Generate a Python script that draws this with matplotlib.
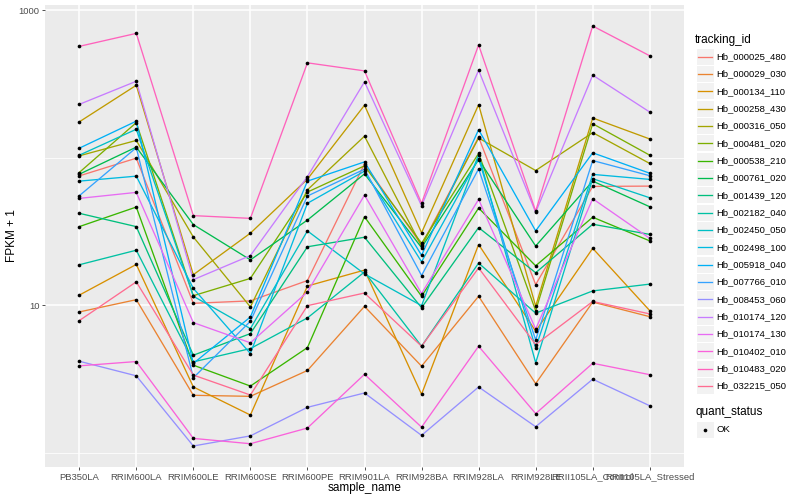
import numpy as np
import matplotlib
matplotlib.use("Agg")
import matplotlib.pyplot as plt
from matplotlib.patches import Rectangle
from matplotlib.lines import Line2D
from matplotlib.ticker import FixedLocator, NullFormatter

plt.rcParams["font.family"] = ["Liberation Sans", "DejaVu Sans"]

samples = [
    "PB350LA", "RRIM600LA", "RRIM600LE", "RRIM600SE", "RRIM600PE", "RRIM901LA",
    "RRIM928BA", "RRIM928LA", "RRIM928LE", "RRII105LA_Control", "RRII105LA_Stressed",
]

tracking_ids = [
    "Hb_000025_480", "Hb_000029_030", "Hb_000134_110", "Hb_000258_430", "Hb_000316_050",
    "Hb_000481_020", "Hb_000538_210", "Hb_000761_020", "Hb_001439_120", "Hb_002182_040",
    "Hb_002450_050", "Hb_002498_100", "Hb_005918_040", "Hb_007766_010", "Hb_008453_060",
    "Hb_010174_120", "Hb_010174_130", "Hb_010402_010", "Hb_010483_020", "Hb_032215_050",
]

# ggplot hue palette, 20 levels
colors = [
    "#F8766D", "#EA8331", "#D89000", "#C09B00", "#A3A500", "#7CAE00", "#39B600",
    "#00BB4E", "#00BF7D", "#00C1A3", "#00BFC4", "#00BAE0", "#00B0F6", "#35A2FF",
    "#9590FF", "#C77CFF", "#E76BF3", "#FA62DB", "#FF62BC", "#FF6C91",
]

# FPKM + 1, one list per tracking_id, in sample order
hb_000025_480 = [75.3, 99.3, 10.3, 10.7, 14.7, 90.8, 25.6, 138, 13.8, 63.9, 64.2]
hb_000029_030 = [9.00, 10.9, 2.45, 2.41, 3.61, 9.82, 3.86, 11.5, 2.94, 10.5, 8.36]
hb_000134_110 = [11.7, 18.9, 2.79, 1.80, 13.5, 17.3, 2.49, 25.8, 6.67, 24.3, 9.18]
hb_000258_430 = [175, 310, 16.1, 30.8, 71.6, 227, 31.0, 229, 9.85, 186, 134]
hb_000316_050 = [103, 131, 29.0, 9.73, 60.6, 140, 25.1, 136, 81.9, 148, 91.4]
hb_000481_020 = [79.4, 173, 11.6, 15.2, 58.5, 88.1, 26.3, 107, 9.18, 170, 104]
hb_000538_210 = [34.1, 46.3, 3.92, 2.83, 5.16, 39.8, 11.5, 45.6, 18.5, 39.5, 27.3]
hb_000761_020 = [77.3, 118, 35.2, 20.3, 37.8, 77.7, 24.6, 97.2, 25.2, 69.4, 46.5]
hb_001439_120 = [42.0, 34.1, 4.58, 6.42, 24.9, 28.9, 9.62, 33.6, 16.6, 35.4, 30.2]
hb_002182_040 = [18.8, 23.6, 4.13, 5.08, 8.20, 16.8, 5.27, 19.3, 8.83, 12.5, 13.9]
hb_002450_050 = [104, 156, 11.5, 6.94, 31.9, 16.3, 9.93, 105, 4.07, 72.1, 53.5]
hb_002498_100 = [69.4, 75.0, 13.0, 4.70, 49.1, 81.1, 19.7, 98.8, 5.12, 77.1, 71.3]
hb_005918_040 = [116, 177, 4.03, 8.32, 69.4, 93.7, 21.8, 155, 31.9, 108, 78.5]
hb_007766_010 = [55.2, 117, 3.22, 7.78, 55.0, 83.6, 15.9, 84.0, 5.82, 95.7, 75.5]
hb_008453_060 = [4.17, 3.32, 1.11, 1.30, 2.03, 2.54, 1.31, 2.79, 1.50, 3.15, 2.08]
hb_010174_120 = [230, 330, 14.9, 21.7, 74.5, 327, 47.2, 392, 42.7, 363, 204]
hb_010174_130 = [53.0, 58.2, 7.62, 5.56, 12.3, 55.8, 12.0, 52.2, 6.89, 52.7, 28.4]
hb_010402_010 = [3.88, 4.15, 1.25, 1.15, 1.47, 3.40, 1.49, 5.27, 1.84, 4.04, 3.38]
hb_010483_020 = [569, 697, 40.5, 38.8, 440, 388, 49.1, 582, 43.5, 782, 491]
hb_032215_050 = [7.86, 14.4, 3.36, 2.46, 9.93, 12.1, 5.27, 17.9, 5.41, 10.6, 8.73]

series = [
    hb_000025_480, hb_000029_030, hb_000134_110, hb_000258_430, hb_000316_050,
    hb_000481_020, hb_000538_210, hb_000761_020, hb_001439_120, hb_002182_040,
    hb_002450_050, hb_002498_100, hb_005918_040, hb_007766_010, hb_008453_060,
    hb_010174_120, hb_010174_130, hb_010402_010, hb_010483_020, hb_032215_050,
]

W, H = 800, 500
fig = plt.figure(figsize=(W / 100, H / 100), dpi=100)
fig.patch.set_facecolor("white")

# panel in pixel box: x 45..684, y 5..467
px_l, px_r, px_t, px_b = 45, 684, 5, 467
ax = fig.add_axes([px_l / W, 1 - px_b / H, (px_r - px_l) / W, (px_b - px_t) / H])
ax.set_facecolor("#EBEBEB")
for sp in ax.spines.values():
    sp.set_visible(False)

x = np.arange(len(samples))
for vals, col in zip(series, colors):
    ax.plot(x, vals, color=col, lw=0.95, zorder=3, solid_capstyle="butt")
for vals in series:
    ax.scatter(x, vals, s=7, c="black", linewidths=0, zorder=4)

ax.set_yscale("log")
allv = np.log10(np.concatenate([np.asarray(s, float) for s in series]))
lo, hi = allv.min(), allv.max()
pad = 0.05 * (hi - lo)
ax.set_ylim(10 ** (lo - pad), 10 ** (hi + pad))
ax.set_xlim(-0.6, len(samples) - 0.4)

ax.yaxis.set_major_locator(FixedLocator([10, 1000]))
ax.yaxis.set_minor_locator(FixedLocator([1, 100]))
ax.yaxis.set_minor_formatter(NullFormatter())
ax.set_yticks([10, 1000])
ax.set_yticklabels(["10", "1000"])
ax.set_xticks(x)
ax.set_xticklabels(samples)

ax.grid(True, which="major", color="white", lw=1.1, zorder=0)
ax.grid(True, which="minor", axis="y", color="white", lw=0.55, zorder=0)
ax.set_axisbelow(True)
ax.tick_params(axis="both", which="major", length=2.5, width=0.6, color="#333333",
               labelsize=6.8, labelcolor="#4D4D4D", pad=1.5)
ax.tick_params(axis="y", which="minor", length=0)

# axis titles placed like the ggplot output
fig.text(364.5 / W, 1 - 488 / H, "sample_name", fontsize=8.5, ha="center", va="center")
fig.text(12 / W, 1 - 236 / H, "FPKM + 1", fontsize=8.5, ha="center", va="center",
         rotation=90)

# legend drawn in pixel coordinates
lg = fig.add_axes([0, 0, 1, 1], facecolor="none")
lg.set_xlim(0, W)
lg.set_ylim(H, 0)
lg.axis("off")

lg.text(695, 40.5, "tracking_id", fontsize=8.5, ha="left", va="center")
step = 17.33
for i, (tid, col) in enumerate(zip(tracking_ids, colors)):
    yc = 56.7 + i * step
    lg.add_patch(Rectangle((696.5, yc - step / 2 + 0.6), 17, step - 1.2,
                           facecolor="#F2F2F2", edgecolor="none"))
    lg.add_line(Line2D([698, 712], [yc, yc], color=col, lw=0.95))
    lg.text(716.5, yc, tid, fontsize=6.8, ha="left", va="center")

lg.text(695, 412, "quant_status", fontsize=8.5, ha="left", va="center")
lg.add_patch(Rectangle((696.5, 430 - step / 2 + 0.6), 17, step - 1.2,
                       facecolor="#F2F2F2", edgecolor="none"))
lg.scatter([705], [430], s=7, c="black", linewidths=0)
lg.text(716.5, 430, "OK", fontsize=6.8, ha="left", va="center")

fig.savefig("out.png", dpi=100)
